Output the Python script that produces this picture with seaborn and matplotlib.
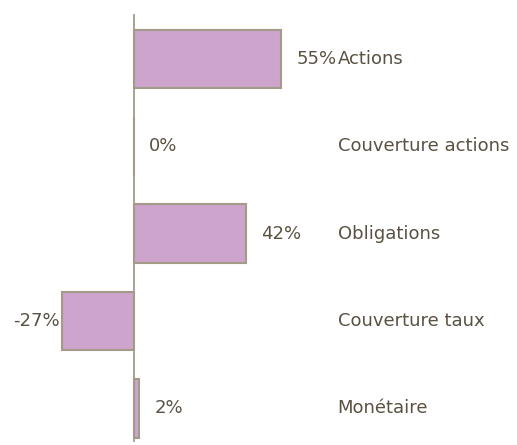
import matplotlib.pyplot as plt
import seaborn as sns
import pandas as pd

"""Allocation data"""

categories = ["Actions", "Couverture actions", "Obligations", "Couverture taux", "Monétaire"]
values = [55, 0, 42, -27, 2]

data = pd.DataFrame({"Categorie": categories, "Poids": values})

text_color = "#5a5142"
bar_color = "#cca4cc"
edge_color = "#a39a8a"

sns.set_style("white")
plt.rcParams['font.family'] = ['DejaVu Sans']

fig = plt.figure(figsize=(5.17, 4.45), dpi=100)
ax = fig.add_axes([0, 0, 1, 1])

sns.barplot(data=data, x="Poids", y="Categorie", orient="h", width=0.67,
            color=bar_color, saturation=1, edgecolor=edge_color, linewidth=1.5, ax=ax)

ax.set_xlim(-50, 143)
ax.set_ylim(4.42, -0.676)

# axis at zero
for side in ["top", "right", "bottom"]:
    ax.spines[side].set_visible(False)
ax.spines["left"].set_position(("data", 0))
ax.spines["left"].set_bounds(-0.505, 4.37)
ax.spines["left"].set_color(edge_color)
ax.spines["left"].set_linewidth(1.3)
ax.set_xticks([])
ax.set_yticks([])
ax.set_xlabel("")
ax.set_ylabel("")

"""Labels"""

fs = 13
for i, (cat, v) in enumerate(zip(categories, values)):
    if v < 0:
        ax.annotate(f"{v}%", xy=(v, i), xytext=(-2, 0), textcoords="offset pixels",
                    ha="right", va="center", fontsize=fs, color=text_color)
    else:
        ax.annotate(f"{v}%", xy=(v, i), xytext=(15, 0), textcoords="offset pixels",
                    ha="left", va="center", fontsize=fs, color=text_color)
    ax.text(76, i, cat, ha="left", va="center", fontsize=fs, color=text_color)

plt.savefig("out.png", dpi=100)
